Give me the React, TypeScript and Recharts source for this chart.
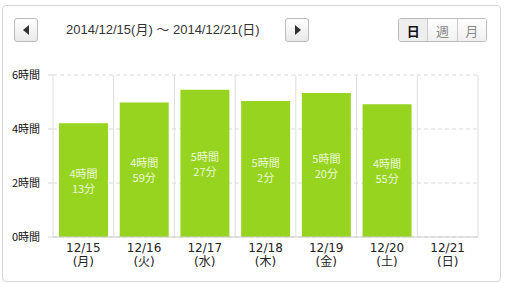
import React from "react";
import { Bar, BarChart, CartesianGrid, LabelList, XAxis, YAxis } from "recharts";

const dates = ["12/15", "12/16", "12/17", "12/18", "12/19", "12/20", "12/21"];
const weekdays = ["月", "火", "水", "木", "金", "土", "日"];
const hours = [4, 4, 5, 5, 5, 4, null];
const minutes = [13, 59, 27, 2, 20, 55, null];
const yTicks = [0, 2, 4, 6];
const rangeLabel = "2014/12/15(月) ～ 2014/12/21(日)";
const modes = ["日", "週", "月"];

const data = dates.map((date, i) => ({
  date,
  weekday: weekdays[i],
  h: hours[i],
  m: minutes[i],
  value: hours[i] == null ? 0 : (hours[i] as number) + (minutes[i] as number) / 60
}));

const GREEN = "#96d41f";
const cjk = "'DejaVu Sans', 'Noto Sans CJK JP', sans-serif";

function DateTick({ x, y, payload, index }: any) {
  return (
    <g>
      <text x={x} y={y + 11} textAnchor="middle" dominantBaseline="central" fontSize={12} fill="#222" fontFamily={cjk}>
        {payload.value}
      </text>
      <text x={x} y={y + 25} textAnchor="middle" dominantBaseline="central" fontSize={12} fill="#222" fontFamily={cjk}>
        {`(${data[index].weekday})`}
      </text>
    </g>
  );
}

function BarText(props: any) {
  const { x, y, width, height, index } = props;
  const d = data[index];
  if (d.h == null) return null;
  const cx = x + width / 2;
  const cy = y + height / 2;
  return (
    <g fill="#eef8dc" fontSize={11} fontFamily="'Noto Sans CJK JP', sans-serif" textAnchor="middle">
      <text x={cx} y={cy - 7.5} dominantBaseline="central">{`${d.h}時間`}</text>
      <text x={cx} y={cy + 7.5} dominantBaseline="central">{`${d.m}分`}</text>
    </g>
  );
}

const btn: React.CSSProperties = {
  position: "absolute",
  top: 18,
  width: 24,
  height: 24,
  boxSizing: "border-box",
  border: "1px solid #bbb",
  borderRadius: 3,
  background: "linear-gradient(#ffffff, #e9e9e9)",
  display: "flex",
  alignItems: "center",
  justifyContent: "center"
};

export default function App() {
  return (
    <div style={{ position: "absolute", left: 0, top: 0, width: 505, height: 283, background: "#fff" }}>
      <div
        style={{
          position: "absolute",
          left: 2,
          top: 5,
          width: 499,
          height: 277,
          boxSizing: "border-box",
          border: "1px solid #d6d6d6",
          borderRadius: 4
        }}
      />
      <div style={{ ...btn, left: 14 }}>
        <div style={{ width: 0, height: 0, borderTop: "5px solid transparent", borderBottom: "5px solid transparent", borderRight: "6px solid #333", marginLeft: -1 }} />
      </div>
      <div
        style={{
          position: "absolute",
          left: 66,
          top: 21,
          height: 18,
          lineHeight: "18px",
          fontSize: 13,
          color: "#333",
          fontFamily: "'Liberation Sans', 'Noto Sans CJK JP', sans-serif",
          whiteSpace: "nowrap"
        }}
      >
        {rangeLabel}
      </div>
      <div style={{ ...btn, left: 285 }}>
        <div style={{ width: 0, height: 0, borderTop: "5px solid transparent", borderBottom: "5px solid transparent", borderLeft: "6px solid #333", marginLeft: 1 }} />
      </div>
      <div
        style={{
          position: "absolute",
          left: 398,
          top: 18,
          width: 89,
          height: 24,
          boxSizing: "border-box",
          border: "1px solid #bbb",
          borderRadius: 3,
          display: "flex",
          overflow: "hidden",
          fontFamily: "'Noto Sans CJK JP', sans-serif",
          fontSize: 13
        }}
      >
        {modes.map((m, i) => (
          <div
            key={m}
            style={{
              flex: 1,
              display: "flex",
              alignItems: "center",
              justifyContent: "center",
              borderLeft: i === 0 ? "none" : "1px solid #ccc",
              background: i === 0 ? "#eeeeee" : "linear-gradient(#ffffff, #f0f0f0)",
              color: i === 0 ? "#111" : "#888",
              fontWeight: i === 0 ? 700 : 400
            }}
          >
            {m}
          </div>
        ))}
      </div>
      <div style={{ position: "absolute", left: 0, top: 0 }}>
        <BarChart width={505} height={283} data={data} margin={{ top: 75, right: 27, left: 0, bottom: 0 }}>
          <CartesianGrid vertical={false} stroke="#d8d8d8" strokeDasharray="4 3" />
          <CartesianGrid
            horizontal={false}
            stroke="#dedede"
            verticalCoordinatesGenerator={({ offset }: any) =>
              dates.map((_, i) => offset.left + (i * offset.width) / dates.length).concat(offset.left + offset.width)
            }
          />
          <XAxis
            dataKey="date"
            height={46}
            axisLine={{ stroke: "#cccccc" }}
            tickLine={false}
            tickSize={0}
            tickMargin={0}
            interval={0}
            tick={<DateTick />}
          />
          <YAxis
            width={53}
            domain={[0, 6]}
            ticks={yTicks}
            axisLine={false}
            tickSize={5}
            tickMargin={8}
            tickLine={{ stroke: "#d8d8d8" }}
            tickFormatter={(v) => `${v}時間`}
            tick={{ fontSize: 11, fill: "#111", fontFamily: "'Noto Sans CJK JP', sans-serif" }}
          />
          <Bar dataKey="value" fill={GREEN} barSize={49} isAnimationActive={false}>
            <LabelList dataKey="value" content={<BarText />} />
          </Bar>
        </BarChart>
      </div>
    </div>
  );
}
